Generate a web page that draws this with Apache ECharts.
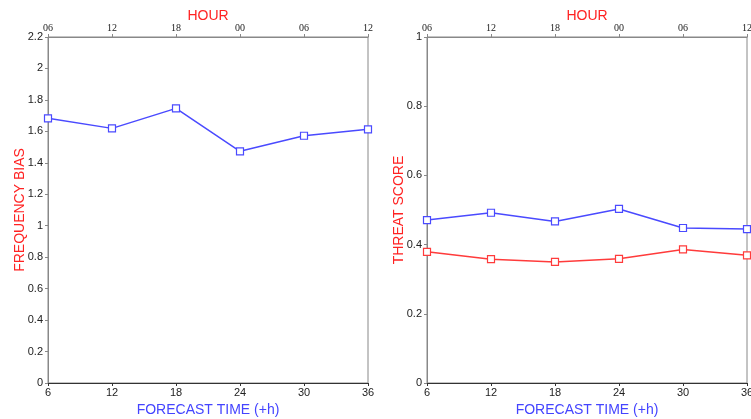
<!DOCTYPE html>
<html><head><meta charset="utf-8">
<script src="https://cdn.jsdelivr.net/npm/echarts@6/dist/echarts.min.js"></script>
<style>html,body{margin:0;padding:0;background:#fff}#c{width:751px;height:419px}</style>
</head><body><div id="c"></div>
<script>
const forecastHours = [6, 12, 18, 24, 30, 36];
const hourLabels = ['06', '12', '18', '00', '06', '12'];
const freqBias = [1.683, 1.619, 1.746, 1.473, 1.572, 1.613];
const threatBlue = [0.471, 0.492, 0.467, 0.503, 0.448, 0.445];
const threatRed = [0.379, 0.358, 0.350, 0.359, 0.386, 0.369];

const FONT = 'Liberation Sans, Arial, sans-serif';
const chart = echarts.init(document.getElementById('c'), null, {renderer: 'canvas'});
function pairs(ys) { return forecastHours.map((x, i) => [x, ys[i]]); }
function hourFmt(v) { const i = forecastHours.indexOf(v); return i >= 0 ? hourLabels[i] : ''; }

const grids = [
  {left: 48, right: 383, top: 37, bottom: 36, show: true, borderColor: '#888', borderWidth: 1, containLabel: false, outerBoundsMode: 'none'},
  {left: 427, right: 4, top: 37, bottom: 36, show: true, borderColor: '#888', borderWidth: 1, containLabel: false, outerBoundsMode: 'none'}
];
const xAxes = [], yAxes = [];
[0, 1].forEach(g => {
  xAxes.push({
    type: 'value', gridIndex: g, min: 6, max: 36, interval: 6, position: 'bottom',
    name: 'FORECAST TIME (+h)', nameLocation: 'middle', nameGap: 20, nameMoveOverlap: false,
    nameTextStyle: {color: '#4444ff', fontSize: 14, fontFamily: FONT},
    axisLine: {lineStyle: {color: '#333', width: 1}},
    axisTick: {length: 3, lineStyle: {color: '#333'}},
    axisLabel: {color: '#222', fontSize: 11, margin: 4, fontFamily: FONT, showMaxLabel: true, hideOverlap: false},
    splitLine: {show: false}
  });
  xAxes.push({
    type: 'value', gridIndex: g, min: 6, max: 36, interval: 6, position: 'top',
    name: 'HOUR', nameLocation: 'middle', nameGap: 14, nameMoveOverlap: false,
    nameTextStyle: {color: '#ff2222', fontSize: 14, fontFamily: FONT},
    axisLine: {lineStyle: {color: '#888', width: 1}},
    axisTick: {length: 3, lineStyle: {color: '#888'}},
    axisLabel: {color: '#222', fontSize: 10, margin: 4, fontFamily: 'Liberation Serif, Times New Roman, serif', formatter: hourFmt},
    splitLine: {show: false}
  });
});
function yAxis(g, max, name) {
  return {
    type: 'value', gridIndex: g, min: 0, max: max, interval: 0.2,
    name: name, nameLocation: 'middle', nameGap: 21, nameRotate: 90, nameMoveOverlap: false,
    nameTextStyle: {color: '#ff2222', fontSize: 14, fontFamily: FONT},
    axisLine: {show: true, lineStyle: {color: '#888'}},
    axisTick: {show: true, length: 3, lineStyle: {color: '#888'}},
    axisLabel: {color: '#222', fontSize: 11, margin: 5, fontFamily: FONT,
      formatter: v => String(Math.round(v * 10) / 10)},
    splitLine: {show: false}
  };
}
yAxes.push(yAxis(0, 2.2, 'FREQUENCY BIAS'));
yAxes.push(yAxis(1, 1, 'THREAT SCORE'));

function line(data, color, xi, yi) {
  return {
    type: 'line', data: pairs(data), xAxisIndex: xi, yAxisIndex: yi,
    symbol: 'rect', symbolSize: 7, showAllSymbol: true,
    lineStyle: {color: color, width: 1.5},
    itemStyle: {color: '#fff', borderColor: color, borderWidth: 1.2},
    animation: false
  };
}

chart.setOption({
  animation: false,
  grid: grids,
  xAxis: xAxes,
  yAxis: yAxes,
  series: [
    line(freqBias, '#4a4aff', 0, 0),
    line(threatBlue, '#4a4aff', 2, 1),
    line(threatRed, '#ff3b3b', 2, 1)
  ]
});
</script></body></html>
